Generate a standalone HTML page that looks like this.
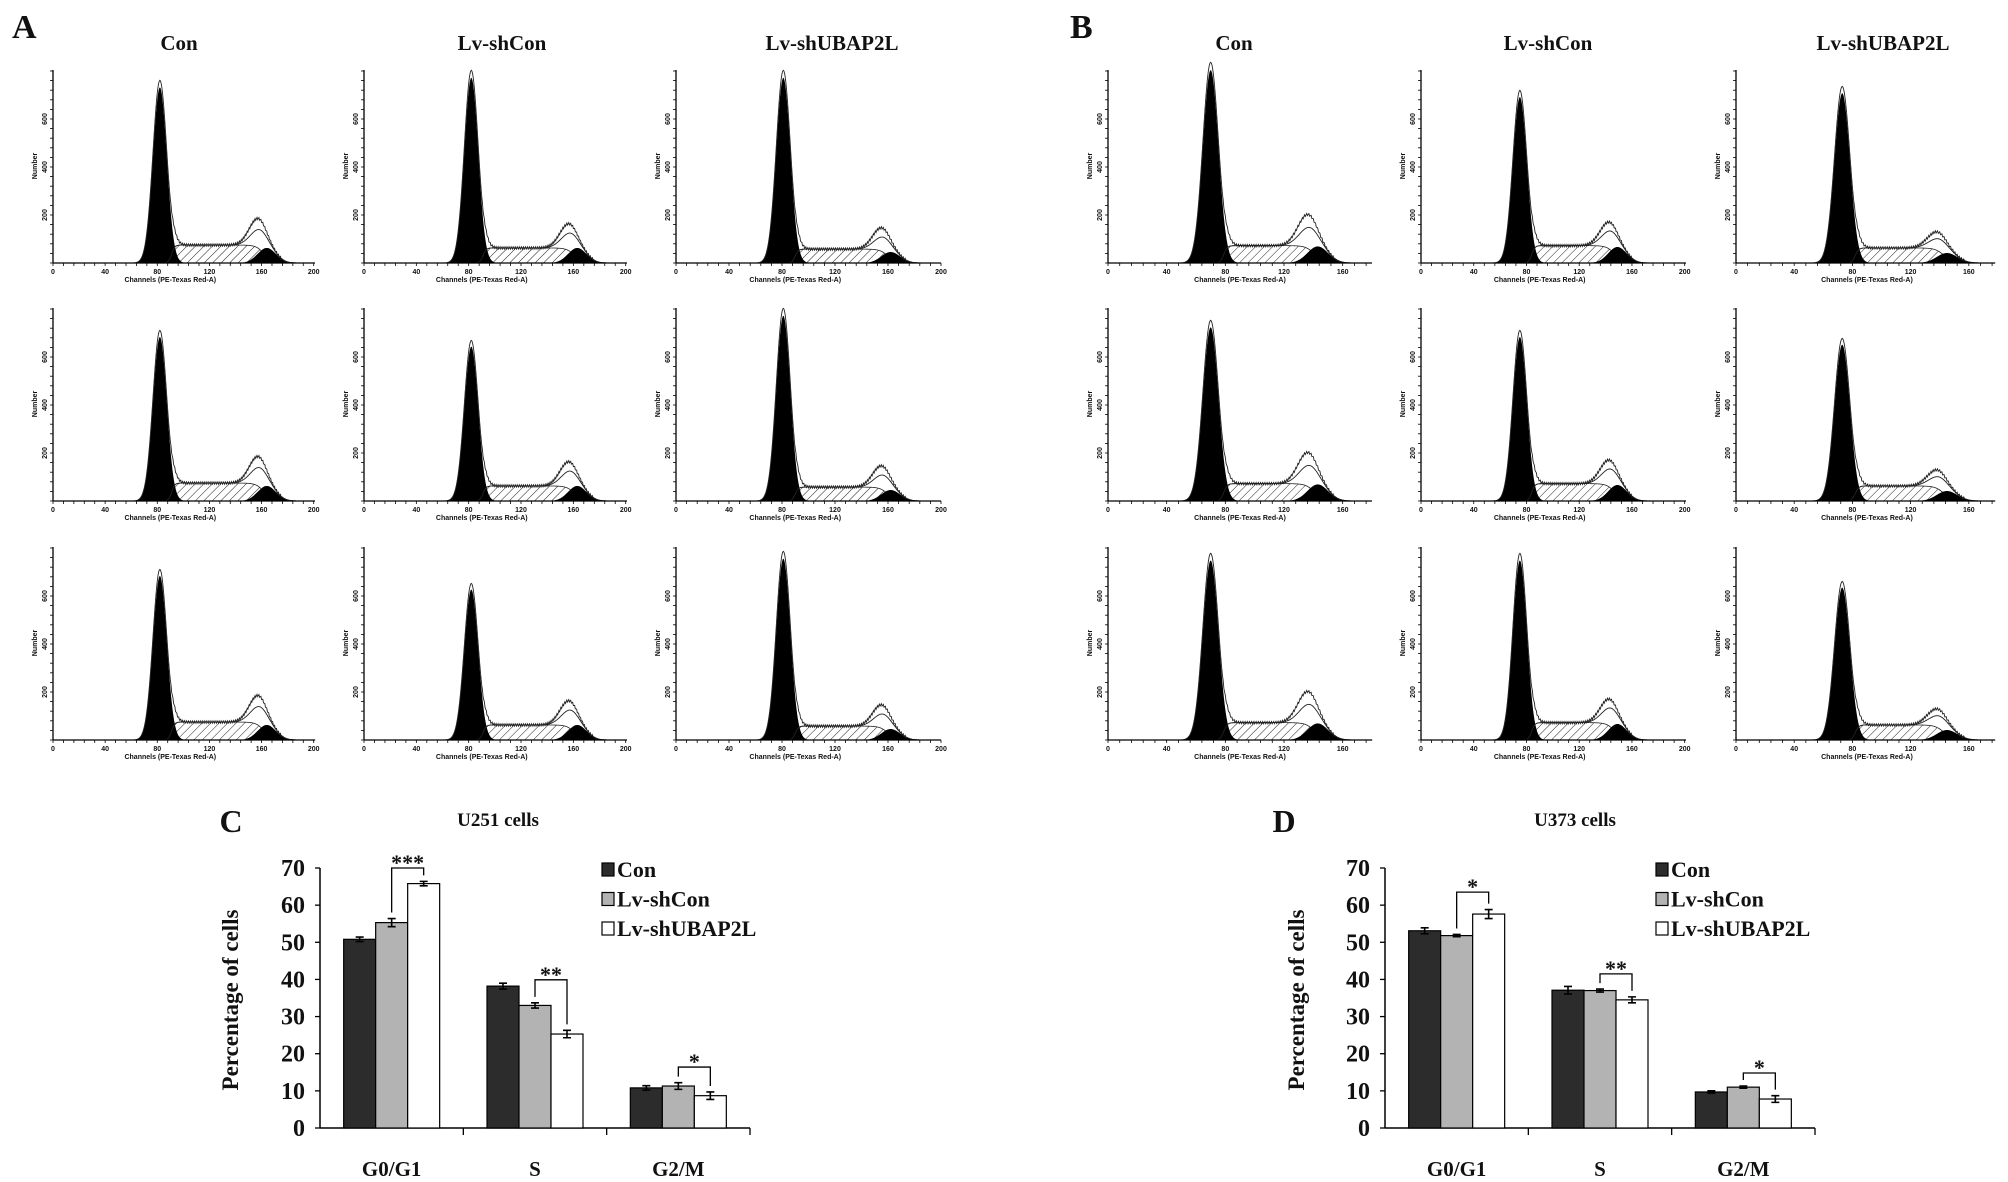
<!DOCTYPE html>
<html><head><meta charset="utf-8"><style>
html,body{margin:0;padding:0;background:#fff}
svg{display:block}
text{font-family:"Liberation Serif",serif;font-weight:bold;fill:#111}
.sm{font-family:"Liberation Sans",sans-serif;font-weight:bold;font-size:7px}
</style></head><body>
<svg id="fig" width="2008" height="1182" viewBox="0 0 2008 1182" xmlns="http://www.w3.org/2000/svg">
<defs>
<pattern id="hatch" patternUnits="userSpaceOnUse" width="6" height="6" patternTransform="rotate(45)">
<rect width="6" height="6" fill="#fff"/><line x1="0" y1="0" x2="0" y2="6" stroke="#222" stroke-width="1"/>
</pattern>
</defs>
<text x="12" y="38" font-size="34">A</text>
<text x="1070" y="38" font-size="34">B</text>
<text x="179" y="50" font-size="21" text-anchor="middle">Con</text>
<text x="502" y="50" font-size="21" text-anchor="middle">Lv-shCon</text>
<text x="832" y="50" font-size="21" text-anchor="middle">Lv-shUBAP2L</text>
<text x="1234" y="50" font-size="21" text-anchor="middle">Con</text>
<text x="1548" y="50" font-size="21" text-anchor="middle">Lv-shCon</text>
<text x="1883" y="50" font-size="21" text-anchor="middle">Lv-shUBAP2L</text>
<g id="hists"></g>
<g id="bars"></g>
</svg>
<script>
// ---------- histogram data (per panel, row-major within A then B) ----------
const colG1Pos = [82, 82, 81, 70, 75, 73];
const colG2Pos = [164, 163, 162, 143, 149, 145];
const colChMax = [201, 201, 200, 180, 201, 178];
const g1Heights = [[0.91,0.96,0.96,1.0,0.86,0.88],[0.85,0.80,0.96,0.90,0.85,0.81],[0.85,0.78,0.94,0.93,0.93,0.79]];
const sHeights = [0.093,0.078,0.072,0.09,0.09,0.078];
const g2Heights = [0.078,0.078,0.057,0.086,0.083,0.052];
const bumpHeights = [0.24,0.21,0.19,0.26,0.22,0.17];
const yTickLabels = ["200","400","600"];
const xTickLabels = ["0","40","80","120","160","200"];

// ---------- bar chart data ----------
const categories = ["G0/G1","S","G2/M"];
const seriesNames = ["Con","Lv-shCon","Lv-shUBAP2L"];
const yTicks = [0,10,20,30,40,50,60,70];
const cCon = [50.8, 38.2, 10.8];
const cShCon = [55.3, 33.0, 11.3];
const cShUB = [65.8, 25.3, 8.7];
const cErrCon = [0.6, 0.8, 0.6];
const cErrShCon = [1.1, 0.7, 0.9];
const cErrShUB = [0.6, 1.0, 1.0];
const cBracketTop = [70, 39.9, 16.4];
const cStars = ["***","**","*"];
const dCon = [53.1, 37.1, 9.7];
const dShCon = [51.8, 37.0, 11.0];
const dShUB = [57.6, 34.5, 7.8];
const dErrCon = [0.8, 1.0, 0.3];
const dErrShCon = [0.3, 0.4, 0.3];
const dErrShUB = [1.2, 0.8, 0.9];
const dBracketTop = [63.5, 41.5, 14.8];
const dStars = ["*","**","*"];

const NS = "http://www.w3.org/2000/svg";
function mk(tag, attrs, parent){ const e=document.createElementNS(NS,tag); for(const k in attrs) e.setAttribute(k,attrs[k]); parent.appendChild(e); return e; }

const colX0 = [53, 364, 676, 1108, 1421, 1736];
const colX1 = [315, 627, 941, 1372, 1686, 1995];
const rowY = [263, 501, 740];
const AXH = 193;
const hg = document.getElementById('hists');
function gauss(c,m,s){return Math.exp(-(c-m)*(c-m)/(2*s*s));}
for(let r=0;r<3;r++){
  for(let k=0;k<6;k++){
    const x0=colX0[k], x1=colX1[k], ay=rowY[r], chMax=colChMax[k];
    const X=c=>x0+c/chMax*(x1-x0);
    const Y=f=>ay-f*AXH;
    const c1=colG1Pos[k], c2=colG2Pos[k], h1=g1Heights[r][k], hs=sHeights[k], h2=g2Heights[k], hb=bumpHeights[k];
    const g=mk('g',{},hg);
    
    
    const S=c=>hs/(1+Math.exp(-(c-(c1+9))/1.2))/(1+Math.exp((c-(c2-2))/3));
    const G1=c=>h1*gauss(c,c1,5.3);
    const G2=c=>h2*gauss(c,c2,7);
    const bx=hb-hs-h2*gauss(c2-8,c2,7);
    const B=c=>Math.max(0,bx)*gauss(c,c2-8,6.5);
    let sp=[],g1p=[],g2p=[],raw=[],fit=[];
    let j=0;
    for(let c=0;c<=chMax;c+=0.5){
      j++;
      sp.push(X(c)+','+Y(S(c)));
      g1p.push(X(c)+','+Y(G1(c)));
      g2p.push(X(c)+','+Y(G2(c)));
      const base=G1(c)*1.04+S(c)+G2(c)+B(c);
      const wob=(c>c1+8 && c<c2+12)?0.006*((j%3)-1):0;
      raw.push(X(c)+','+Y(base+wob));
      fit.push(X(c)+','+Y(S(c)+G2(c)+0.45*B(c)));
    }
    let p=mk('polygon',{points:X(0)+','+ay+' '+sp.join(' ')+' '+X(chMax)+','+ay,fill:'url(#hatch)',stroke:'#222','stroke-width':0.8},g);
     
    p=mk('polygon',{points:X(0)+','+ay+' '+g1p.join(' ')+' '+X(chMax)+','+ay,fill:'#000'},g);
     
    p=mk('polygon',{points:X(0)+','+ay+' '+g2p.join(' ')+' '+X(chMax)+','+ay,fill:'#000'},g);
     
    p=mk('polyline',{points:fit.join(' '),fill:'none',stroke:'#222','stroke-width':0.9},g);
     
    p=mk('polyline',{points:raw.join(' '),fill:'none',stroke:'#222','stroke-width':0.9},g);
     
    p=mk('line',{x1:x0,y1:ay-AXH,x2:x0,y2:ay,stroke:'#000','stroke-width':1.3},g);
     
    p=mk('line',{x1:x0,y1:ay,x2:x1,y2:ay,stroke:'#000','stroke-width':1.3},g);
     
    for(let t=0;t<=AXH;t+=9.6){ mk('line',{x1:x0-3,y1:ay-t,x2:x0,y2:ay-t,stroke:'#000','stroke-width':0.8},g); }
    for(let c=0;c<=chMax;c+=8){ mk('line',{x1:X(c),y1:ay,x2:X(c),y2:ay+3,stroke:'#000','stroke-width':0.8},g); }
    for(let i=0;i<xTickLabels.length;i++){
      const c=+xTickLabels[i]; if(c>chMax) continue;
      const t=mk('text',{x:X(c),y:ay+11,'text-anchor':'middle',class:'sm'},g); t.textContent=xTickLabels[i];
       
    }
    for(let i=0;i<yTickLabels.length;i++){
      const yy=ay-(i+1)*48;
      const t=mk('text',{x:x0-6,y:yy,'text-anchor':'middle',class:'sm',transform:'rotate(-90 '+(x0-6)+' '+yy+')'},g); t.textContent=yTickLabels[i];
       
    }
    let t=mk('text',{x:x0-16,y:ay-97,'text-anchor':'middle',class:'sm',transform:'rotate(-90 '+(x0-16)+' '+(ay-97)+')'},g); t.textContent='Number';
     
    t=mk('text',{x:X(90),y:ay+19,'text-anchor':'middle',class:'sm'},g); t.textContent='Channels (PE-Texas Red-A)';
     
  }
}

// ---------- bar charts ----------
const bg=document.getElementById('bars');
function barChart(prefix, ax, axEnd, letter, letterX, title, titleX, ytX, legX, vals, errs, brTop, stars){
  const y0=1128, per=(1128-868)/70;
  const Y=v=>y0-v*per;
  const g=mk('g',{},bg);
  
  
  let t=mk('text',{x:letterX,y:832,'font-size':32,'text-anchor':'middle'},g); t.textContent=letter;
   
  t=mk('text',{x:titleX,y:826,'font-size':19,'text-anchor':'middle'},g); t.textContent=title;
   
  let l=mk('line',{x1:ax,y1:Y(70),x2:ax,y2:y0,stroke:'#000','stroke-width':1.5},g);
   
  l=mk('line',{x1:ax,y1:y0,x2:axEnd,y2:y0,stroke:'#000','stroke-width':1.5},g);
   
  for(const v of yTicks){
    mk('line',{x1:ax-5,y1:Y(v),x2:ax,y2:Y(v),stroke:'#000','stroke-width':1.3},g);
    t=mk('text',{x:ax-15,y:Y(v)+8,'font-size':24,'text-anchor':'end'},g); t.textContent=v;
     
  }
  t=mk('text',{x:ytX,y:1000,'font-size':23,'text-anchor':'middle',transform:'rotate(-90 '+ytX+' 1000)'},g); t.textContent='Percentage of cells';
   
  const cw=(axEnd-ax)/3, bw=32;
  const fills=['#2c2c2c','#b3b3b3','#ffffff'];
  for(let i=0;i<3;i++){
    mk('line',{x1:ax+cw*(i+1),y1:y0,x2:ax+cw*(i+1),y2:y0+7,stroke:'#000','stroke-width':1.3},g);
    const cx=ax+cw*(i+0.5);
    t=mk('text',{x:cx,y:1176,'font-size':21,'text-anchor':'middle'},g); t.textContent=categories[i];
     
    const centers=[];
    for(let s=0;s<3;s++){
      const bx=cx-1.5*bw+s*bw, v=vals[s][i], e=errs[s][i];
      centers.push(bx+bw/2);
      const r=mk('rect',{x:bx,y:Y(v),width:bw,height:y0-Y(v),fill:fills[s],stroke:'#000','stroke-width':1.2},g);
      
      
      const ex=bx+bw/2;
      const eb=mk('path',{d:`M${ex},${Y(v+e)}V${Y(v-e)}M${ex-4},${Y(v+e)}H${ex+4}M${ex-4},${Y(v-e)}H${ex+4}`,stroke:'#000','stroke-width':1.6,fill:'none'},g);
       
    }
    const vL=vals[1][i]+errs[1][i], vR=vals[2][i]+errs[2][i];
    const br=mk('path',{d:`M${centers[1]},${Y(vL)-6}V${Y(brTop[i])}H${centers[2]}V${Y(vR)-6}`,stroke:'#000','stroke-width':1.3,fill:'none'},g);
     
    t=mk('text',{x:(centers[1]+centers[2])/2,y:Y(brTop[i])+2,'font-size':22,'text-anchor':'middle'},g); t.textContent=stars[i];
     
  }
  for(let s=0;s<3;s++){
    const ly=875+s*29.5;
    const r=mk('rect',{x:legX,y:ly-12,width:12,height:13,fill:fills[s],stroke:'#000','stroke-width':1.2},g);
     
    t=mk('text',{x:legX+15,y:ly+2,'font-size':22},g); t.textContent=seriesNames[s];
     
  }
}
barChart('c',320,750,'C',231,'U251 cells',498,238,602,[cCon,cShCon,cShUB],[cErrCon,cErrShCon,cErrShUB],cBracketTop,cStars);
barChart('d',1385,1815,'D',1284,'U373 cells',1575,1304,1656,[dCon,dShCon,dShUB],[dErrCon,dErrShCon,dErrShUB],dBracketTop,dStars);
</script>
</body></html>
